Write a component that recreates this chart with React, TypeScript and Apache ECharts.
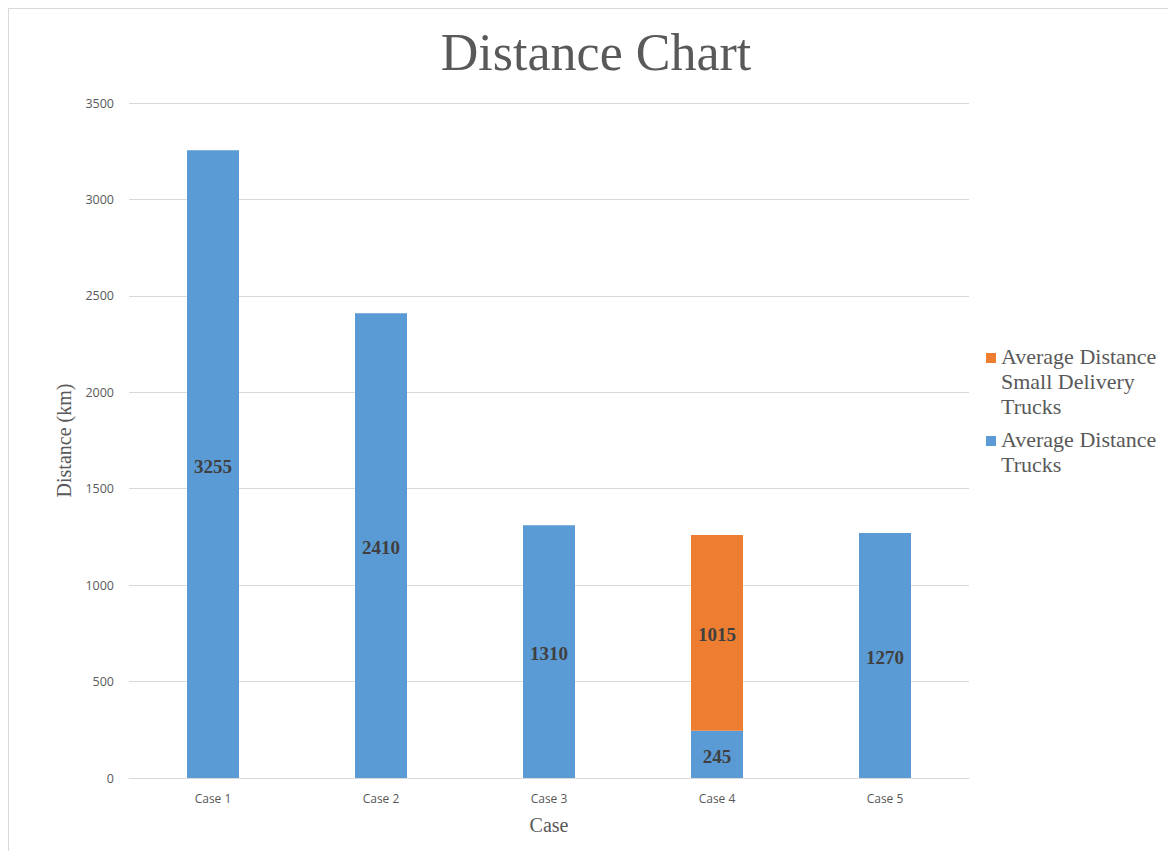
import React, { useEffect, useRef } from "react";
import * as echarts from "echarts";

const categories = ["Case 1", "Case 2", "Case 3", "Case 4", "Case 5"];
const trucks = [3255, 2410, 1310, 245, 1270];
const smallTrucks = [null, null, null, 1015, null];
const legendNames = ["Average Distance\nSmall Delivery\nTrucks", "Average Distance\nTrucks"];
const seriesNames = ["Average Distance Trucks", "Average Distance Small Delivery Trucks"];

const BLUE = "#5b9bd5";
const ORANGE = "#ed7d31";
const SERIF = "'Liberation Serif', 'DejaVu Serif', serif";
const SANS = "'Open Sans', 'Noto Sans', sans-serif";

export default function App() {
  const ref = useRef<HTMLDivElement>(null);
  useEffect(() => {
    if (!ref.current) return;
    const chart = echarts.init(ref.current, null, { renderer: "svg" });
    const label = {
      show: true,
      position: "inside",
      offset: [0, 2],
      fontFamily: SERIF,
      fontWeight: "bold",
      fontSize: 19,
      color: "#404040",
    };
    chart.setOption({
      animation: false,
      backgroundColor: "#ffffff",
      title: {
        text: "Distance Chart",
        left: "center",
        top: 12,
        textStyle: { fontFamily: SERIF, fontSize: 52, fontWeight: "normal", color: "#595959" },
      },
      grid: { left: 120, right: 214, top: 94, bottom: 80 },
      xAxis: {
        type: "category",
        data: categories,
        name: "Case",
        nameLocation: "middle",
        nameGap: 37,
        nameTextStyle: { fontFamily: SERIF, fontSize: 20, color: "#595959" },
        axisLine: { lineStyle: { color: "#d9d9d9" } },
        axisTick: { show: false },
        axisLabel: { fontFamily: SANS, fontSize: 12, color: "#595959", margin: 14 },
      },
      yAxis: {
        type: "value",
        min: 0,
        max: 3500,
        interval: 500,
        name: "Distance (km)",
        nameLocation: "middle",
        nameGap: 55,
        nameTextStyle: { fontFamily: SERIF, fontSize: 20, color: "#595959" },
        axisLine: { show: false },
        axisTick: { show: false },
        axisLabel: {
          fontFamily: SANS,
          fontSize: 12.5,
          color: "#595959",
          margin: 15,
          formatter: (v: number) => String(v),
        },
        splitLine: { lineStyle: { color: "#d9d9d9" } },
      },
      series: [
        {
          name: seriesNames[0],
          type: "bar",
          stack: "total",
          data: trucks,
          barWidth: 52,
          itemStyle: { color: BLUE },
          label,
        },
        {
          name: seriesNames[1],
          type: "bar",
          stack: "total",
          data: smallTrucks,
          barWidth: 52,
          itemStyle: { color: ORANGE },
          label,
        },
      ],
      graphic: [
        { type: "rect", left: 977, top: 344, shape: { width: 10, height: 10 }, style: { fill: ORANGE } },
        {
          type: "text",
          left: 992,
          top: 335,
          style: { text: legendNames[0], fontFamily: SERIF, fontSize: 22, lineHeight: 25, fill: "#595959" },
        },
        { type: "rect", left: 977, top: 427, shape: { width: 10, height: 10 }, style: { fill: BLUE } },
        {
          type: "text",
          left: 992,
          top: 418,
          style: { text: legendNames[1], fontFamily: SERIF, fontSize: 22, lineHeight: 25, fill: "#595959" },
        },
      ],
    });
    return () => chart.dispose();
  }, []);
  return (
    <div
      ref={ref}
      style={{ width: 1176, height: 851, border: "1px solid #d9d9d9", boxSizing: "border-box" }}
    />
  );
}
